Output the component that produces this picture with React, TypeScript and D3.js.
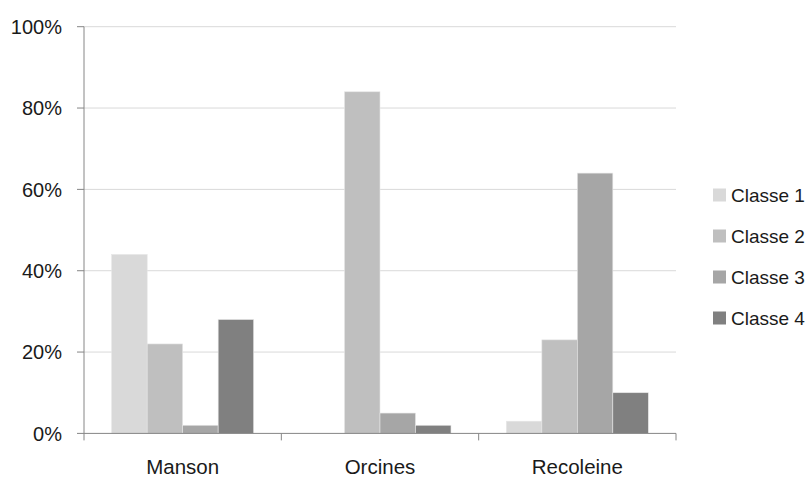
import React from "react";
import * as d3 from "d3";

const categories = ["Manson", "Orcines", "Recoleine"];
const seriesNames = ["Classe 1", "Classe 2", "Classe 3", "Classe 4"];
const classe1 = [44, 0, 3];
const classe2 = [22, 84, 23];
const classe3 = [2, 5, 64];
const classe4 = [28, 2, 10];
const yTicks = [0, 20, 40, 60, 80, 100];
const colors = ["#d9d9d9", "#bfbfbf", "#a6a6a6", "#808080"];

const seriesValues = [classe1, classe2, classe3, classe4];

export default function App() {
  const W = 807, H = 479;
  const left = 84, right = 676, top = 26.7, bottom = 433.4;
  const font = "'Liberation Sans', Arial, sans-serif";

  const x0 = d3.scaleBand<string>().domain(categories).range([left, right]).padding(0);
  const x1 = d3
    .scaleBand<string>()
    .domain(seriesNames)
    .range([0, x0.bandwidth()])
    .paddingInner(0)
    .paddingOuter(0.78);
  const y = d3.scaleLinear().domain([0, 100]).range([bottom, top]);

  return (
    <svg
      width={W}
      height={H}
      style={{ position: "absolute", left: 0, top: 0, background: "#fff" }}
      fontFamily={font}
    >
      {yTicks.map((t) => (
        <g key={t}>
          {t > 0 && (
            <line x1={left} x2={right} y1={y(t)} y2={y(t)} stroke="#d9d9d9" strokeWidth={1} />
          )}
          <line x1={77} x2={left} y1={y(t)} y2={y(t)} stroke="#868686" strokeWidth={1} />
          <text x={62} y={y(t)} dy="0.36em" textAnchor="end" fontSize={20} fill="#1a1a1a">
            {t}%
          </text>
        </g>
      ))}

      {categories.map((c, ci) => (
        <g key={c}>
          {seriesNames.map((s, si) => {
            const v = seriesValues[si][ci];
            if (v <= 0) return null;
            return (
              <rect
                key={s}
                x={(x0(c) as number) + (x1(s) as number)}
                y={y(v)}
                width={x1.bandwidth()}
                height={y(0) - y(v)}
                fill={colors[si]}
                stroke="#e6e6e6"
                strokeWidth={0.6}
              />
            );
          })}
          <text
            x={(x0(c) as number) + x0.bandwidth() / 2}
            y={474}
            textAnchor="middle"
            fontSize={20.5}
            fill="#1a1a1a"
          >
            {c}
          </text>
        </g>
      ))}

      <line x1={left} x2={left} y1={top} y2={bottom} stroke="#868686" strokeWidth={1} />
      <line x1={left} x2={right} y1={bottom} y2={bottom} stroke="#868686" strokeWidth={1} />
      {[...categories.map((c) => x0(c) as number), right].map((xx, i) => (
        <line key={i} x1={xx} x2={xx} y1={bottom} y2={bottom + 7} stroke="#868686" strokeWidth={1} />
      ))}

      {seriesNames.map((s, i) => {
        const cy = 195 + i * 41;
        return (
          <g key={s}>
            <rect x={713} y={cy - 6.5} width={13} height={13} fill={colors[i]} />
            <text x={731} y={cy} dy="0.36em" fontSize={19} fill="#1a1a1a">
              {s}
            </text>
          </g>
        );
      })}
    </svg>
  );
}
